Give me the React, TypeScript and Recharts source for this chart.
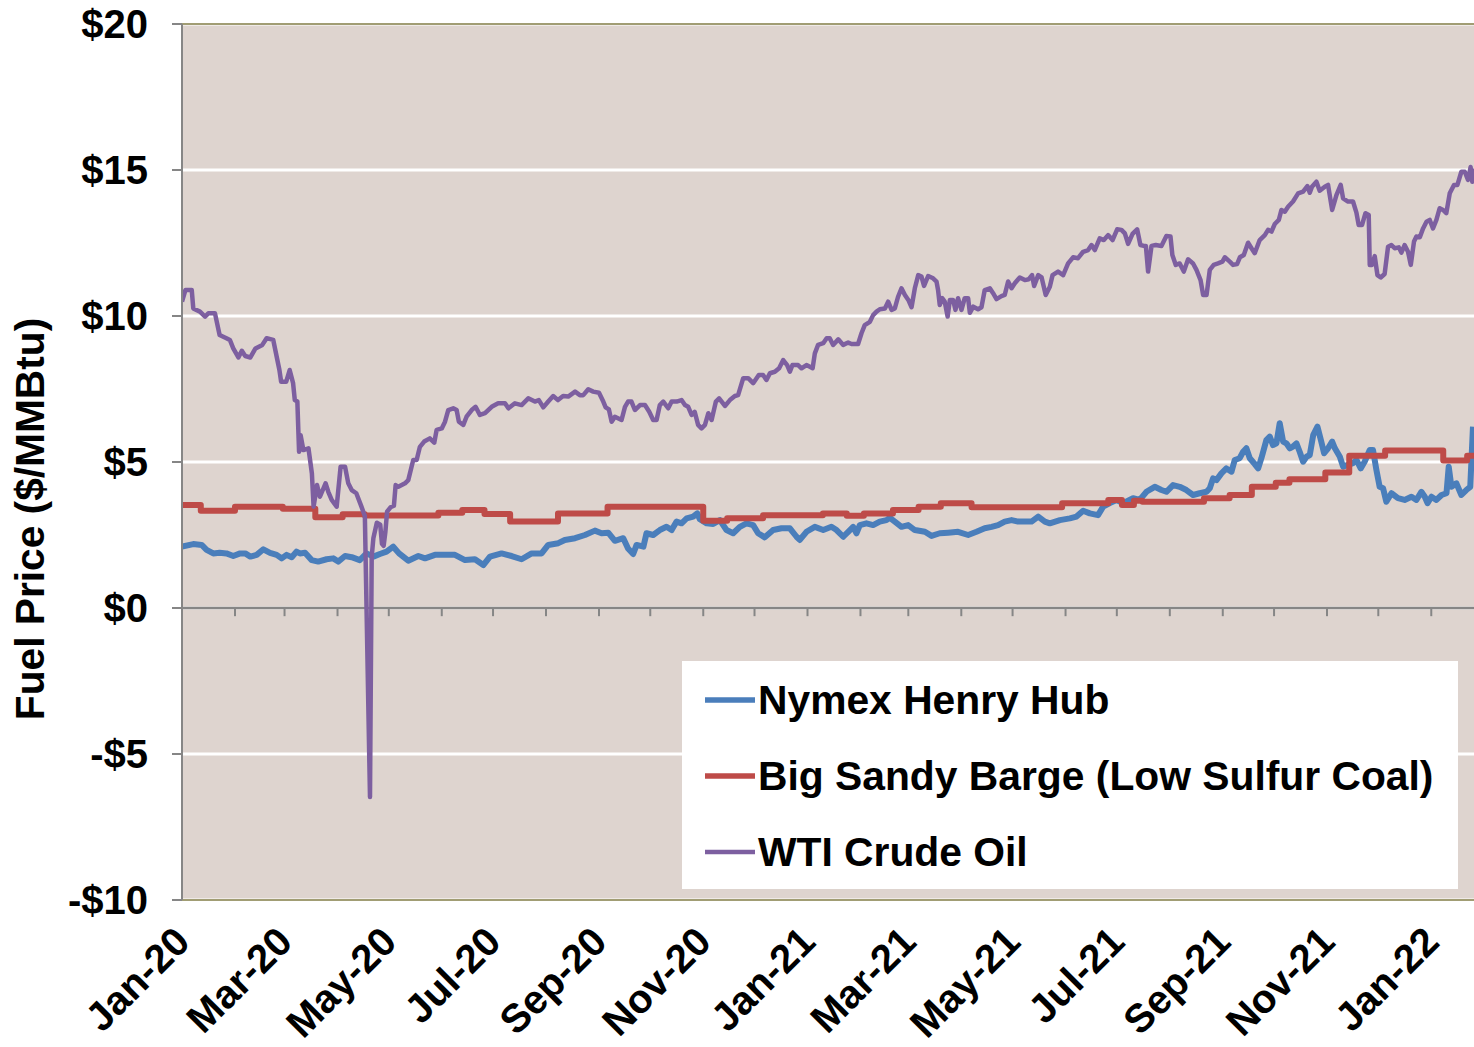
import React from "react";
import { LineChart, Line, XAxis, YAxis, CartesianGrid, ReferenceLine } from "recharts";

// x = days since 1 Jan 2020, y = $/MMBtu
const monthDays = [0, 31, 60, 91, 121, 152, 182, 213, 244, 274, 305, 335, 366, 397, 425, 456, 486, 517, 547, 578, 609, 639, 670, 700, 731];
const monthLabels = ["Jan-20", "", "Mar-20", "", "May-20", "", "Jul-20", "", "Sep-20", "", "Nov-20", "", "Jan-21", "", "Mar-21", "", "May-21", "", "Jul-21", "", "Sep-21", "", "Nov-21", "", "Jan-22"];
const yTicks = [-10, -5, 0, 5, 10, 15, 20];
const seriesNames = ["Nymex Henry Hub", "Big Sandy Barge (Low Sulfur Coal)", "WTI Crude Oil"];
const seriesColors = ["#4A7EBB", "#BE4B48", "#7D5FA0"];

const henryHub: [number, number][] = [
  [0, 2.1], [6.6, 2.19], [11.5, 2.16], [14.4, 1.99], [18.3, 1.87], [22, 1.89], [26, 1.87], [30, 1.78], [34, 1.87], [37, 1.87],
  [40, 1.76], [43.7, 1.82], [47.6, 2.01], [51.5, 1.89], [55.4, 1.82], [58.3, 1.7], [61.2, 1.82], [64.2, 1.74], [67, 1.93], [69, 1.87],
  [72, 1.89], [75.9, 1.64], [79.7, 1.59], [84.6, 1.67], [88.5, 1.7], [91.4, 1.59], [95.4, 1.78], [99.3, 1.74], [104, 1.64], [108, 1.87],
  [112, 1.76], [115.8, 1.85], [119.7, 1.93], [123.6, 2.1], [127, 1.87], [132.4, 1.62], [138.3, 1.78], [142.2, 1.7], [148, 1.82], [153.9, 1.82],
  [159.7, 1.82], [165.6, 1.64], [171.4, 1.67], [176.3, 1.47], [180.2, 1.76], [187, 1.87], [192.9, 1.78], [198.7, 1.67], [204.6, 1.87], [210.4, 1.87],
  [214.3, 2.16], [220.2, 2.22], [224, 2.33], [230, 2.39], [235.8, 2.5], [241.6, 2.65], [245.5, 2.56], [249.4, 2.58], [253.3, 2.3], [258.2, 2.39],
  [261, 2.04], [264, 1.85], [266, 2.16], [270, 2.1], [271.8, 2.56], [275.7, 2.5], [279.6, 2.67], [283.5, 2.78], [286.5, 2.67], [289.4, 2.96],
  [292.3, 2.9], [295.3, 3.07], [299.1, 3.13], [301.5, 3.24], [303, 3.04], [307, 2.9], [310.8, 2.88], [314.7, 3.01], [318.6, 2.67], [322.5, 2.56],
  [326.4, 2.78], [330.3, 2.9], [334.2, 2.84], [337.1, 2.56], [341, 2.42], [345.9, 2.67], [350.8, 2.73], [355.7, 2.73], [359.6, 2.44], [361.5, 2.33],
  [365.4, 2.61], [370.3, 2.78], [375.2, 2.67], [380, 2.78], [383, 2.67], [386.9, 2.44], [389.8, 2.61], [392.7, 2.78], [394.7, 2.56], [396.6, 2.84],
  [400.5, 2.9], [404.4, 2.84], [408.3, 2.96], [412.2, 3.01], [414.2, 3.09], [417.1, 2.96], [421, 2.78], [424.9, 2.84], [428.8, 2.67], [434.7, 2.61],
  [438.6, 2.47], [443.4, 2.56], [448.3, 2.58], [454.1, 2.61], [460, 2.5], [464.9, 2.61], [469.7, 2.73], [473.7, 2.78], [477.5, 2.84], [481.4, 2.96],
  [485.4, 3.01], [489.2, 2.96], [493.2, 2.96], [497.1, 2.96], [501, 3.13], [504.9, 2.96], [507.8, 2.9], [513.7, 3.01], [519.5, 3.07], [523.4, 3.13],
  [527.3, 3.33], [531.2, 3.24], [536, 3.18], [539, 3.47], [542.9, 3.59], [546.8, 3.7], [550.7, 3.59], [556.5, 3.76], [560.4, 3.7], [564.3, 3.98],
  [569.2, 4.15], [573.1, 4.04], [576, 3.98], [579.9, 4.21], [583.8, 4.15], [587.7, 4.04], [591.6, 3.87], [595.5, 3.93], [599.5, 3.98], [601.4, 4.1],
  [603.3, 4.44], [605.3, 4.38], [608.2, 4.61], [611.1, 4.78], [614.1, 4.67], [616, 5.07], [618.9, 5.13], [620.9, 5.35], [622.8, 5.47], [624.8, 5.13],
  [627.7, 4.93], [629.7, 4.78], [631.6, 5.13], [634.5, 5.75], [636.5, 5.87], [638.4, 5.58], [640.4, 5.64], [642.3, 6.33], [644.3, 5.7], [646.2, 5.64],
  [648.2, 5.47], [650.1, 5.53], [652.1, 5.64], [654, 5.35], [656, 5.01], [658, 5.18], [659.9, 5.24], [661.9, 5.92], [664.4, 6.21], [666.4, 5.75],
  [668.3, 5.3], [670.6, 5.47], [673, 5.7], [674.6, 5.47], [677.5, 5.18], [679.4, 4.84], [682.3, 4.9], [685.2, 4.96], [687.2, 5.07], [689.7, 4.78],
  [692, 5.01], [695, 5.41], [696.9, 5.41], [698.9, 4.73], [700.8, 4.15], [702.8, 4.1], [704.7, 3.64], [707.7, 3.93], [711.5, 3.76], [715.4, 3.7],
  [719.4, 3.81], [722.3, 3.7], [725.2, 3.98], [727.2, 3.81], [728.8, 3.59], [731.1, 3.81], [734, 3.7], [737, 3.87], [739.9, 3.93], [741.2, 4.84],
  [742.8, 4.15], [745.7, 4.27], [748.6, 3.87], [751.5, 4.04], [753.8, 4.15], [755.4, 6.21],
];

const bigSandy: [number, number][] = [
  [0, 3.53], [11, 3.33], [31, 3.47], [59, 3.4], [78, 3.11], [94, 3.21], [107, 3.17], [150, 3.26], [164, 3.36], [177, 3.22],
  [192, 2.96], [220, 3.24], [249, 3.47], [305, 2.99], [319, 3.07], [340, 3.18], [375, 3.24], [389, 3.16], [399, 3.24], [416, 3.36],
  [431, 3.47], [444, 3.59], [462, 3.45], [515, 3.59], [542, 3.7], [550, 3.53], [557, 3.67], [562, 3.64], [598, 3.76], [613, 3.87],
  [626, 4.15], [640, 4.29], [648, 4.41], [669, 4.64], [683, 5.21], [704, 5.39], [738, 5.05], [752, 5.21], [756, 5.21],
];

const wtiCrude: [number, number][] = [
  [0, 10.49], [2, 10.89], [5.7, 10.89], [6.6, 10.26], [10.5, 10.15], [13.5, 9.98], [15.4, 10.09], [19.3, 10.09], [22, 9.35], [26, 9.24],
  [28, 9.18], [30, 8.89], [33, 8.58], [35, 8.81], [37, 8.63], [40, 8.58], [43, 8.89], [47, 9.01], [49.5, 9.24], [53.4, 9.18],
  [57, 8.15], [58, 7.75], [61, 7.75], [63, 8.15], [65, 7.7], [66, 7.12], [67.5, 7.07], [68.5, 5.35], [69.4, 5.92], [71, 5.41],
  [74, 5.47], [76, 4.61], [77, 3.47], [79, 4.21], [80.7, 3.81], [84, 4.27], [85.6, 3.98], [87.6, 3.7], [90.5, 3.47], [92.8, 4.84],
  [95.4, 4.84], [97.3, 4.27], [99.3, 4.04], [102, 3.93], [105, 3.47], [107, 3.15], [110, -6.47], [111, 1.75], [112, 2.4], [114, 2.92],
  [116, 2.85], [117, 2.2], [118, 2.13], [119, 2.6], [120, 3.3], [122, 3.45], [124, 3.5], [125, 4.21], [126.6, 4.15], [130.5, 4.27],
  [132.4, 4.38], [135.3, 5.07], [137.3, 5.07], [139.2, 5.52], [141.7, 5.7], [145, 5.81], [147.6, 5.66], [149, 6.1], [152, 6.15], [153.9, 6.38],
  [155.8, 6.78], [158.7, 6.84], [160.7, 6.78], [162, 6.38], [164.6, 6.27], [166.5, 6.55], [169.5, 6.78], [171.8, 6.89], [174.3, 6.61], [177.3, 6.67],
  [181.2, 6.89], [185, 7.01], [189, 7.01], [191, 6.84], [194.8, 7.01], [198.7, 6.95], [202.6, 7.18], [206.5, 7.07], [208.8, 7.12], [211.4, 6.87],
  [214.3, 7.07], [217.2, 7.26], [220, 7.12], [223, 7.26], [226, 7.24], [230, 7.41], [232.8, 7.29], [234.8, 7.29], [237.7, 7.49], [240.6, 7.41],
  [244, 7.37], [246.5, 7.07], [247.9, 6.87], [249.8, 6.8], [251.4, 6.38], [253.3, 6.55], [257.2, 6.44], [259.2, 6.89], [261, 7.07], [263, 7.07],
  [265, 6.78], [268, 6.95], [270.9, 6.95], [273.4, 6.72], [275.7, 6.44], [277.7, 6.44], [279.6, 6.95], [281.6, 7.07], [284.5, 6.84], [286.5, 7.07],
  [289.4, 7.07], [292.3, 7.12], [294.3, 6.95], [296.2, 6.89], [298.2, 6.61], [300, 6.72], [302, 6.27], [304, 6.15], [306, 6.27], [308, 6.67],
  [309.9, 6.44], [312.4, 7.07], [314.3, 7.18], [317.7, 6.92], [320.6, 7.12], [323.5, 7.26], [325.4, 7.29], [328.4, 7.87], [331.3, 7.87], [334.2, 7.7],
  [337.5, 7.98], [340, 7.98], [342, 7.81], [344, 8.04], [346.9, 8.09], [349.4, 8.21], [351.8, 8.49], [354.1, 8.32], [355.7, 8.09], [357.2, 8.32],
  [360.5, 8.32], [362.5, 8.21], [365.4, 8.32], [367.4, 8.26], [369, 8.21], [370.3, 8.72], [372.2, 9.01], [375.2, 9.07], [377.2, 9.24], [379, 9.24],
  [381, 9.01], [384, 9.2], [386.9, 9.01], [389.8, 9.09], [391.8, 9.04], [395.6, 9.04], [397.6, 9.41], [399.5, 9.69], [402.5, 9.8], [404.4, 10.03],
  [406.4, 10.15], [408.3, 10.23], [411.3, 10.26], [413.2, 10.49], [415.2, 10.21], [417.1, 10.26], [419, 10.66], [421, 10.95], [423, 10.72], [425, 10.55],
  [426.9, 10.3], [428.8, 10.95], [430.8, 11.4], [432.7, 11.35], [434.2, 11.03], [436.6, 11.37], [439.5, 11.29], [441.5, 11.18], [442.4, 10.89], [443.4, 10.38],
  [444.8, 10.61], [446.3, 10.49], [448, 9.98], [449.3, 10.55], [451.2, 10.55], [452.6, 10.21], [454.1, 10.61], [456.1, 10.21], [458, 10.61], [460, 10.61],
  [461, 10.11], [463, 10.32], [465.8, 10.23], [467.8, 10.3], [469.7, 10.89], [472.7, 10.95], [474.6, 10.78], [476.6, 10.58], [479.5, 10.68], [481.4, 10.72],
  [483.4, 11.18], [485.4, 10.95], [487.3, 11.12], [490.2, 11.32], [493.2, 11.23], [495.5, 11.26], [497.4, 11.4], [498.6, 11.03], [501, 11.4], [503, 11.32],
  [505.4, 10.72], [507.8, 11.0], [509.4, 11.4], [512.6, 11.52], [515.6, 11.4], [518.5, 11.8], [521.4, 12.01], [524.3, 11.98], [527.3, 12.2], [530.2, 12.26],
  [532.2, 12.43], [534.1, 12.26], [537, 12.66], [539.4, 12.6], [541.9, 12.77], [544.5, 12.6], [547.2, 12.97], [549.7, 12.95], [551.7, 12.83], [553.6, 12.47],
  [556.2, 12.81], [558.9, 12.97], [560.8, 12.43], [562.8, 12.4], [564, 12.4], [565.3, 11.52], [567.3, 12.4], [569.8, 12.43], [573.1, 12.4], [576, 12.74],
  [578.4, 12.72], [579.5, 12.09], [581.5, 11.75], [583.8, 11.8], [586.2, 11.52], [588.7, 11.94], [591.6, 11.8], [593.6, 11.58], [596, 11.23], [597.5, 10.72],
  [599.5, 10.72], [601.4, 11.58], [603.7, 11.75], [606.2, 11.8], [608.8, 11.86], [610.2, 12.01], [613.1, 11.86], [615, 11.75], [617.4, 11.78], [619, 12.01],
  [621.3, 12.09], [623.8, 12.51], [625.8, 12.32], [627.7, 12.15], [630.6, 12.6], [633.6, 12.77], [635.5, 12.95], [637.5, 12.89], [639.4, 13.15], [641.8, 13.29],
  [643.3, 13.63], [645.3, 13.57], [647.2, 13.74], [650.1, 13.92], [653.1, 14.2], [656, 14.26], [658.5, 14.45], [659.9, 14.22], [661.2, 14.43], [663.8, 14.6],
  [665.7, 14.29], [668.7, 14.43], [670.6, 14.49], [673, 13.63], [675.5, 14.14], [678, 14.49], [679.4, 14.03], [682.3, 13.92], [685.2, 13.92], [687.2, 13.54],
  [688.5, 13.12], [690.5, 13.12], [692.5, 13.52], [694.4, 13.46], [695, 11.75], [696.3, 11.75], [697.9, 12.05], [699.5, 11.4], [701.4, 11.32], [703.7, 11.44],
  [705.7, 12.37], [707.7, 12.43], [709.6, 12.32], [712, 12.35], [713.5, 12.17], [715.4, 12.43], [717.4, 12.2], [719, 11.75], [720.9, 12.55], [722.3, 12.72],
  [724.3, 12.7], [726.2, 13.0], [728.2, 13.23], [730.1, 13.29], [732, 13.0], [734, 13.29], [735.9, 13.69], [737.9, 13.63], [739.8, 13.52], [741.8, 14.2],
  [744.3, 14.49], [746.3, 14.49], [748.6, 14.94], [750.6, 14.94], [752.5, 14.66], [754, 15.1], [755, 14.6], [756, 15.05],
];

const toRows = (pts: [number, number][]) => pts.map(([d, v]) => ({ d, v }));
const hhData = toRows(henryHub);
const coalData = toRows(bigSandy);
const wtiData = toRows(wtiCrude);

const FONT = "'Liberation Sans', Arial, Helvetica, sans-serif";
const W = 1474;
const H = 1047;

const fmtDollar = (v: number) => (v < 0 ? `-$${-v}` : `$${v}`);

const YTick = (props: any) => {
  const { x, y, payload } = props;
  return (
    <text x={x} y={y} dy="0.35em" textAnchor="end" fontFamily={FONT} fontWeight="bold" fontSize={40} fill="#000">
      {fmtDollar(payload.value)}
    </text>
  );
};

const XTick = (props: any) => {
  const { x, y, payload } = props;
  const idx = monthDays.indexOf(payload.value);
  const label = idx >= 0 ? monthLabels[idx] : "";
  if (!label) return null;
  const ax = x + 10;
  const ay = y + 44;
  return (
    <text x={ax} y={ay} textAnchor="end" transform={`rotate(-45, ${ax}, ${ay})`} fontFamily={FONT} fontWeight="bold" fontSize={40} fill="#000">
      {label}
    </text>
  );
};

const YLabel = (props: any) => {
  const vb = props.viewBox || { x: 0, y: 24, width: 182, height: 876 };
  const cx = 30;
  const cy = vb.y + vb.height / 2 + 57;
  return (
    <text x={cx} y={cy} dy="0.35em" textAnchor="middle" transform={`rotate(-90, ${cx}, ${cy})`} fontFamily={FONT} fontWeight="bold" fontSize={40.7} fill="#000">
      Fuel Price ($/MMBtu)
    </text>
  );
};

const LegendBox = () => (
  <div style={{ position: "absolute", left: 682, top: 661, width: 776, height: 228, background: "#FFFFFF" }}>
    <svg width={776} height={228} style={{ display: "block" }}>
      {seriesNames.map((name, i) => {
        const cy = 39 + i * 76;
        return (
          <g key={name}>
            <line x1={23} x2={73} y1={cy} y2={cy} stroke={seriesColors[i]} strokeWidth={i === 2 ? 4.5 : 5.5} />
            <text x={76} y={cy} dy="0.35em" fontFamily={FONT} fontWeight="bold" fontSize={40.8} fill="#000">
              {name}
            </text>
          </g>
        );
      })}
    </svg>
  </div>
);

export default function App() {
  return (
    <div style={{ position: "relative", width: W, height: H, overflow: "hidden" }}>
      <style>{"html, body { margin: 0; padding: 0; overflow: hidden; }"}</style>
      <LineChart width={W} height={H} margin={{ top: 24, right: 0, left: 0, bottom: 0 }}>
        <CartesianGrid vertical={false} horizontal={true} stroke="#FFFFFF" strokeWidth={3} fill="#DED4CF" fillOpacity={1} />
        <XAxis
          dataKey="d"
          type="number"
          domain={[0, 756]}
          ticks={monthDays}
          interval={0}
          height={147}
          tickSize={0}
          tickMargin={0}
          tickLine={false}
          axisLine={{ stroke: "#A19D74", strokeWidth: 2 }}
          tick={<XTick />}
          allowDataOverflow
        />
        <YAxis
          type="number"
          domain={[-10, 20]}
          ticks={yTicks}
          interval={0}
          width={182}
          tickSize={10}
          tickMargin={24}
          tickLine={{ stroke: "#868686", strokeWidth: 2 }}
          axisLine={{ stroke: "#868686", strokeWidth: 2 }}
          tick={<YTick />}
          label={<YLabel />}
        />
        <ReferenceLine y={20} stroke="#A19D74" strokeWidth={2} />
        <ReferenceLine y={0} stroke="#868686" strokeWidth={2.5} />
        {monthDays.slice(1).map((d) => (
          <ReferenceLine key={d} segment={[{ x: d, y: 0 }, { x: d, y: -0.28 }]} stroke="#868686" strokeWidth={2} />
        ))}
        <Line data={hhData} dataKey="v" type="linear" stroke={seriesColors[0]} strokeWidth={6} dot={false} isAnimationActive={false} strokeLinejoin="round" />
        <Line data={coalData} dataKey="v" type="stepAfter" stroke={seriesColors[1]} strokeWidth={6} dot={false} isAnimationActive={false} strokeLinejoin="round" />
        <Line data={wtiData} dataKey="v" type="linear" stroke={seriesColors[2]} strokeWidth={4.5} dot={false} isAnimationActive={false} strokeLinejoin="round" />
      </LineChart>
      <LegendBox />
    </div>
  );
}
